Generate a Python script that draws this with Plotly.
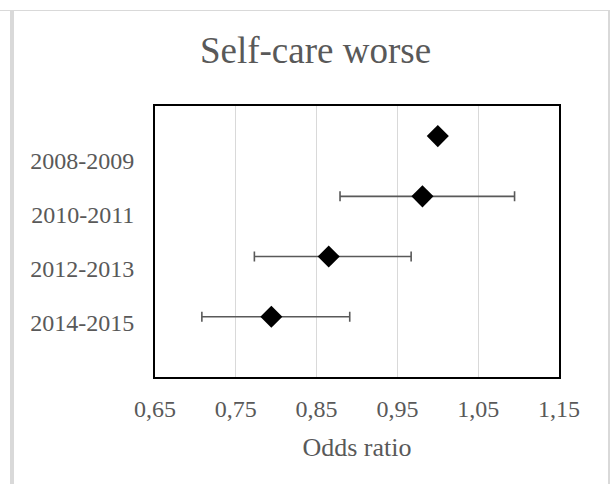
import plotly.graph_objects as go

# Data
periods = ["2008-2009", "2010-2011", "2012-2013", "2014-2015"]
odds_ratio = [1.00, 0.981, 0.865, 0.794]
ci_lower = [None, 0.879, 0.773, 0.708]
ci_upper = [None, 1.095, 0.967, 0.891]
x_ticks = [0.65, 0.75, 0.85, 0.95, 1.05, 1.15]

n = len(periods)
y_pos = [n - i for i in range(n)]
y_max = n + 0.5
label_pos = [(n - i) * y_max / (n + 1) for i in range(n)]

err_plus = [None if u is None else u - o for u, o in zip(ci_upper, odds_ratio)]
err_minus = [None if l is None else o - l for l, o in zip(ci_lower, odds_ratio)]

TEXT = "#595959"
FONT = "Liberation Serif, Times New Roman, serif"

fig = go.Figure()
fig.add_trace(go.Scatter(
    x=odds_ratio, y=y_pos, mode="markers",
    marker=dict(symbol="diamond", size=17, color="black"),
    error_x=dict(type="data", symmetric=False, array=err_plus, arrayminus=err_minus,
                 color="#595959", thickness=1.6, width=5),
    showlegend=False, hoverinfo="x",
))

W, H = 614, 484
L, R, T, B = 155, 55, 106, 107

shapes = []
def px_line(x0, y0, x1, y1, color, width):
    # pixel coordinates measured from page top-left
    shapes.append(dict(
        type="line", xref="paper", yref="paper",
        xsizemode="pixel", ysizemode="pixel", xanchor=0, yanchor=0,
        x0=x0 - L, x1=x1 - L, y0=(H - B) - y0, y1=(H - B) - y1,
        line=dict(color=color, width=width), layer="below"))

px_line(0, 10.5, 609, 10.5, "#d9d9d9", 1)
px_line(12, 10, 12, 484, "#d9d9d9", 4)
px_line(609, 10, 609, 484, "#d9d9d9", 2)

fig.update_layout(
    width=W, height=H,
    margin=dict(l=L, r=R, t=T, b=B, autoexpand=False),
    paper_bgcolor="white", plot_bgcolor="white",
    separators=", ",
    font=dict(family=FONT, color=TEXT, size=24),
    title=dict(text="Self-care worse", font=dict(size=37, color=TEXT, family=FONT),
               x=315.5 / W, xanchor="center", xref="container", y=1 - 50 / H, yanchor="middle",
               yref="container"),
    shapes=shapes,
    xaxis=dict(range=[x_ticks[0], x_ticks[-1]], tickvals=x_ticks, tickformat=".2f",
               showgrid=True, gridcolor="#d9d9d9", gridwidth=1.4,
               showline=True, linecolor="black", linewidth=1.8, mirror=True,
               ticks="", ticklabelstandoff=9, zeroline=False,
               tickfont=dict(size=24, color=TEXT),
               title=dict(text="Odds ratio", font=dict(size=26, color=TEXT), standoff=17)),
    yaxis=dict(range=[0, y_max], tickvals=label_pos, ticktext=periods,
               showgrid=False, zeroline=False,
               showline=True, linecolor="black", linewidth=1.8, mirror=True,
               ticks="", ticklabelstandoff=14,
               tickfont=dict(size=24, color=TEXT)),
)

fig.write_html("out.html", config={"displayModeBar": False},
               post_script="document.body.style.margin='0';")
